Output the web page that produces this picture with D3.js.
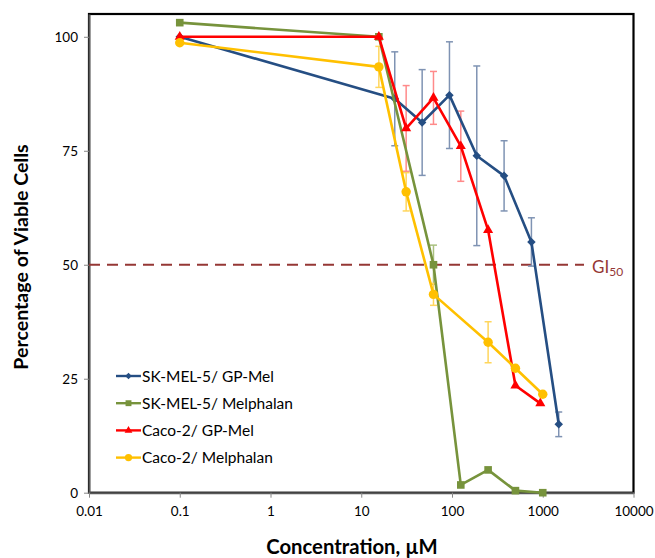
<!DOCTYPE html>
<html>
<head>
<meta charset="utf-8">
<script src="https://cdn.jsdelivr.net/npm/d3@7/dist/d3.min.js"></script>
<style>
  html, body { margin: 0; padding: 0; background: #fff; }
  svg { display: block; }
  text { font-family: Lato, "Open Sans", sans-serif; }
</style>
</head>
<body>
<svg id="chart" width="655" height="558"></svg>
<script>
// Concentrations (µM), mean viability (%) and error (±%) per series
const seriesNames = ["SK-MEL-5/ GP-Mel", "SK-MEL-5/ Melphalan", "Caco-2/ GP-Mel", "Caco-2/ Melphalan"];
const seriesColors = ["#254E83", "#77933C", "#FF0000", "#FFC000"];
const errorColors = ["#7F93B3", "#A9C07F", "#FF8A8A", "#FFD65C"];
const seriesSymbols = ["diamond", "square", "triangle", "circle"];

const concSkGp = [0.1, 23.4, 46.9, 93.75, 187.5, 375, 750, 1500];
const viabSkGp = [100, 86.4, 81.2, 87.2, 73.9, 69.5, 55.0, 15.0];
const errSkGp = [0, 10.3, 11.6, 11.7, 19.7, 7.7, 5.3, 2.7];

const concSkMel = [0.1, 15.625, 62.5, 125, 250, 500, 1000];
const viabSkMel = [103.1, 100, 50.0, 1.7, 5.0, 0.45, 0];
const errSkMel = [0, 0, 4.3, 0, 0, 0, 0];

const concCacoGp = [0.1, 15.625, 31.25, 62.5, 125, 250, 500, 940];
const viabCacoGp = [100, 100, 79.9, 86.6, 76.0, 57.6, 23.5, 19.6];
const errCacoGp = [0, 0, 9.4, 5.8, 7.7, 0, 0, 0];

const concCacoMel = [0.1, 15.625, 31.25, 62.5, 250, 500, 1000];
const viabCacoMel = [98.7, 93.4, 66.0, 43.5, 33.0, 27.3, 21.6];
const errCacoMel = [0, 4.5, 4.2, 2.4, 4.5, 0, 0];

const xTicks = [0.01, 0.1, 1, 10, 100, 1000, 10000];
const xTickLabels = ["0.01", "0.1", "1", "10", "100", "1000", "10000"];
const yTicks = [0, 25, 50, 75, 100];
const gi50Level = 50;

const xTitle = "Concentration, µM";
const yTitle = "Percentage of Viable Cells";

const seriesData = [
  [concSkGp, viabSkGp, errSkGp],
  [concSkMel, viabSkMel, errSkMel],
  [concCacoGp, viabCacoGp, errCacoGp],
  [concCacoMel, viabCacoMel, errCacoMel]
].map(([c, v, e], i) => ({
  name: seriesNames[i],
  color: seriesColors[i],
  errColor: errorColors[i],
  symbol: seriesSymbols[i],
  points: c.map((x, j) => ({ x, y: v[j], e: e[j] }))
}));

const svg = d3.select("#chart");
const plot = { left: 89, right: 633.5, top: 14, bottom: 492.7 };

const x = d3.scaleLog().domain([0.01, 10000]).range([plot.left, plot.right]);
const y = d3.scaleLinear().domain([0, 105]).range([plot.bottom, plot.top]);

// plot frame (top/right edges are black)
svg.append("rect")
  .attr("x", plot.left).attr("y", plot.top)
  .attr("width", plot.right - plot.left).attr("height", plot.bottom - plot.top)
  .attr("fill", "none").attr("stroke", "#000").attr("stroke-width", 2.2);

// Y axis
const yAxis = svg.append("g")
  .attr("transform", `translate(${plot.left},0)`)
  .call(d3.axisLeft(y).tickValues(yTicks).tickSize(5).tickPadding(6).tickSizeOuter(0));
yAxis.select(".domain").attr("stroke", "#595959").attr("stroke-width", 2);
yAxis.selectAll(".tick line").attr("stroke", "#868686").attr("stroke-width", 1);
yAxis.selectAll(".tick text").attr("font-size", 13.5).attr("fill", "#000")
  .style("font-family", "Lato, sans-serif");

// X axis
const xAxis = svg.append("g")
  .attr("transform", `translate(0,${plot.bottom})`)
  .call(d3.axisBottom(x).tickValues(xTicks).tickFormat((d, i) => xTickLabels[i])
    .tickSize(5).tickPadding(9).tickSizeOuter(0));
xAxis.select(".domain").attr("stroke", "#595959").attr("stroke-width", 2);
xAxis.selectAll(".tick line").attr("stroke", "#868686").attr("stroke-width", 1);
xAxis.selectAll(".tick text").attr("font-size", 13.5).attr("fill", "#000")
  .style("font-family", "Lato, sans-serif");

// axis titles
svg.append("text")
  .attr("x", 352).attr("y", 554)
  .attr("text-anchor", "middle")
  .attr("font-size", 20.3).attr("font-weight", "bold")
  .text(xTitle);

svg.append("text")
  .attr("transform", "translate(28,257) rotate(-90)")
  .attr("text-anchor", "middle")
  .attr("font-size", 19.6).attr("font-weight", "bold")
  .text(yTitle);

// GI50 reference line
svg.append("line")
  .attr("x1", plot.left).attr("x2", 584)
  .attr("y1", y(gi50Level)).attr("y2", y(gi50Level))
  .attr("stroke", "#953735").attr("stroke-width", 2.2)
  .attr("stroke-dasharray", "11,7");

const giLabel = svg.append("text")
  .attr("x", 592).attr("y", y(gi50Level) + 8)
  .attr("fill", "#953735").attr("font-size", 17);
giLabel.append("tspan").text("GI");
giLabel.append("tspan").attr("font-size", 12).attr("dy", 3).text("50");

function symbolPath(kind, scale) {
  const s = scale || 1;
  switch (kind) {
    case "diamond": return d3.symbol().type(d3.symbolDiamond2).size(46 * s)();
    case "square": return d3.symbol().type(d3.symbolSquare).size(58 * s)();
    case "triangle": return d3.symbol().type(d3.symbolTriangle).size(44 * s)();
    default: return d3.symbol().type(d3.symbolCircle).size(70 * s)();
  }
}

const line = d3.line().x(d => x(d.x)).y(d => y(d.y));

// error bars for all series
seriesData.forEach(s => {
  const g = svg.append("g");
  s.points.filter(p => p.e > 0).forEach(p => {
    const cx = x(p.x), y1 = y(p.y + p.e), y2 = y(p.y - p.e);
    g.append("line").attr("x1", cx).attr("x2", cx).attr("y1", y1).attr("y2", y2)
      .attr("stroke", s.errColor).attr("stroke-width", 1.5);
    [y1, y2].forEach(yy => g.append("line")
      .attr("x1", cx - 3.5).attr("x2", cx + 3.5).attr("y1", yy).attr("y2", yy)
      .attr("stroke", s.errColor).attr("stroke-width", 1.5));
  });
});

// series lines and markers
seriesData.forEach(s => {
  const g = svg.append("g");
  g.append("path").datum(s.points)
    .attr("d", line).attr("fill", "none")
    .attr("stroke", s.color).attr("stroke-width", 2.6)
    .attr("stroke-linejoin", "round");
  g.selectAll("path.mk").data(s.points).join("path")
    .attr("class", "mk")
    .attr("transform", d => `translate(${x(d.x)},${y(d.y)})`)
    .attr("d", symbolPath(s.symbol))
    .attr("fill", s.color);
});

// legend
const legend = svg.append("g").attr("transform", "translate(116,376)");
seriesData.forEach((s, i) => {
  const row = legend.append("g").attr("transform", `translate(0,${i * 27.2})`);
  row.append("line").attr("x1", 0).attr("x2", 25).attr("y1", 0).attr("y2", 0)
    .attr("stroke", s.color).attr("stroke-width", 2.4);
  row.append("path").attr("transform", "translate(12.5,0)")
    .attr("d", symbolPath(s.symbol, 0.6)).attr("fill", s.color);
  row.append("text").attr("x", 26).attr("y", 5.5)
    .attr("font-size", 15.5).attr("fill", "#000")
    .text(s.name);
});
</script>
</body>
</html>
